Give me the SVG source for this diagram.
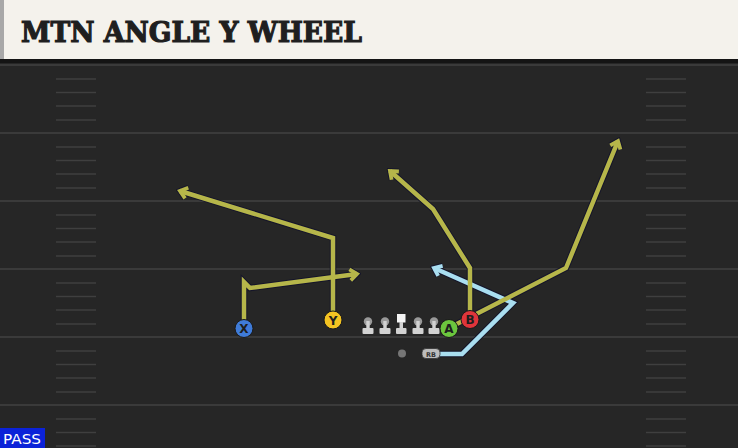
<svg xmlns="http://www.w3.org/2000/svg" width="738" height="448" viewBox="0 0 738 448">
<style>
.yard{stroke:#3a3a3a;stroke-width:2}
.hash{stroke:#3f3f3f;stroke-width:1.6}
.rt-o{fill:none;stroke:#b6b64a;stroke-width:4.5;stroke-linejoin:miter}
.rt-b{fill:none;stroke:#a9def0;stroke-width:4.5;stroke-linejoin:miter}
.rt-k{fill:none;stroke:#15152a;stroke-width:6.5;stroke-linejoin:miter}
.pl{stroke:#1a1a1a;stroke-width:1}
.lt{font-family:"DejaVu Sans",sans-serif;font-weight:bold;font-size:12px;fill:#1e1e1e;text-anchor:middle}
.ol{fill:#d2d2d2}
.oh{fill:#9a9a9a}
</style>
<defs>
<marker id="mO" markerUnits="userSpaceOnUse" viewBox="-12 -9 16 18" markerWidth="16" markerHeight="18" refX="0" refY="0" orient="auto">
<path d="M-7,-5.5 L0,0 L-7,5.5" fill="none" stroke="#b6b64a" stroke-width="3.8"/>
</marker>
<marker id="mB" markerUnits="userSpaceOnUse" viewBox="-12 -9 16 18" markerWidth="16" markerHeight="18" refX="0" refY="0" orient="auto">
<path d="M-7,-5.5 L0,0 L-7,5.5" fill="none" stroke="#a9def0" stroke-width="3.8"/>
</marker>
<marker id="mK" markerUnits="userSpaceOnUse" viewBox="-12 -9 16 18" markerWidth="16" markerHeight="18" refX="0" refY="0" orient="auto">
<path d="M-7,-5.5 L0,0 L-7,5.5" fill="none" stroke="#15152a" stroke-width="5.8"/>
</marker>
</defs>

<g id="field">
<rect x="0" y="0" width="738" height="448" fill="#262626"/>
<line class="yard" x1="0" y1="65" x2="738" y2="65"/>
<line class="yard" x1="0" y1="133" x2="738" y2="133"/>
<line class="yard" x1="0" y1="201" x2="738" y2="201"/>
<line class="yard" x1="0" y1="269" x2="738" y2="269"/>
<line class="yard" x1="0" y1="337" x2="738" y2="337"/>
<line class="yard" x1="0" y1="405" x2="738" y2="405"/>
<g id="hash-left">
<line class="hash" x1="56" y1="79" x2="96" y2="79"/><line class="hash" x1="56" y1="92.5" x2="96" y2="92.5"/><line class="hash" x1="56" y1="106" x2="96" y2="106"/><line class="hash" x1="56" y1="120" x2="96" y2="120"/>
<line class="hash" x1="56" y1="147" x2="96" y2="147"/><line class="hash" x1="56" y1="160.5" x2="96" y2="160.5"/><line class="hash" x1="56" y1="174" x2="96" y2="174"/><line class="hash" x1="56" y1="188" x2="96" y2="188"/>
<line class="hash" x1="56" y1="215" x2="96" y2="215"/><line class="hash" x1="56" y1="228.5" x2="96" y2="228.5"/><line class="hash" x1="56" y1="242" x2="96" y2="242"/><line class="hash" x1="56" y1="256" x2="96" y2="256"/>
<line class="hash" x1="56" y1="283" x2="96" y2="283"/><line class="hash" x1="56" y1="296.5" x2="96" y2="296.5"/><line class="hash" x1="56" y1="310" x2="96" y2="310"/><line class="hash" x1="56" y1="324" x2="96" y2="324"/>
<line class="hash" x1="56" y1="351" x2="96" y2="351"/><line class="hash" x1="56" y1="364.5" x2="96" y2="364.5"/><line class="hash" x1="56" y1="378" x2="96" y2="378"/><line class="hash" x1="56" y1="392" x2="96" y2="392"/>
<line class="hash" x1="56" y1="419" x2="96" y2="419"/><line class="hash" x1="56" y1="432.5" x2="96" y2="432.5"/><line class="hash" x1="56" y1="446" x2="96" y2="446"/>
</g>
<g id="hash-right">
<line class="hash" x1="646" y1="79" x2="686" y2="79"/><line class="hash" x1="646" y1="92.5" x2="686" y2="92.5"/><line class="hash" x1="646" y1="106" x2="686" y2="106"/><line class="hash" x1="646" y1="120" x2="686" y2="120"/>
<line class="hash" x1="646" y1="147" x2="686" y2="147"/><line class="hash" x1="646" y1="160.5" x2="686" y2="160.5"/><line class="hash" x1="646" y1="174" x2="686" y2="174"/><line class="hash" x1="646" y1="188" x2="686" y2="188"/>
<line class="hash" x1="646" y1="215" x2="686" y2="215"/><line class="hash" x1="646" y1="228.5" x2="686" y2="228.5"/><line class="hash" x1="646" y1="242" x2="686" y2="242"/><line class="hash" x1="646" y1="256" x2="686" y2="256"/>
<line class="hash" x1="646" y1="283" x2="686" y2="283"/><line class="hash" x1="646" y1="296.5" x2="686" y2="296.5"/><line class="hash" x1="646" y1="310" x2="686" y2="310"/><line class="hash" x1="646" y1="324" x2="686" y2="324"/>
<line class="hash" x1="646" y1="351" x2="686" y2="351"/><line class="hash" x1="646" y1="364.5" x2="686" y2="364.5"/><line class="hash" x1="646" y1="378" x2="686" y2="378"/><line class="hash" x1="646" y1="392" x2="686" y2="392"/>
<line class="hash" x1="646" y1="419" x2="686" y2="419"/><line class="hash" x1="646" y1="432.5" x2="686" y2="432.5"/><line class="hash" x1="646" y1="446" x2="686" y2="446"/>
</g>
</g>

<g id="title">
<rect x="0" y="0" width="738" height="59" fill="#f4f2ec"/>
<rect x="0" y="0" width="4" height="59" fill="#a8a8a8"/>
<rect x="0" y="59" width="738" height="4" fill="#141414"/>
<text x="21" y="42" font-family="'DejaVu Serif',serif" font-weight="bold" font-size="28" fill="#1f1f1f" stroke="#1f1f1f" stroke-width="1.2" textLength="341" lengthAdjust="spacingAndGlyphs">MTN ANGLE Y WHEEL</text>
</g>

<g id="connectors">
<polyline class="rt-k" points="244,328 244,282 250,288 357,274" marker-end="url(#mK)"/>
<polyline class="rt-k" points="333,320 333,238 180,191" marker-end="url(#mK)"/>
<polyline class="rt-k" points="470,319 470,268 433,209 390,171" marker-end="url(#mK)"/>
<polyline class="rt-k" points="449,328 566,268 618,141" marker-end="url(#mK)"/>
<polyline class="rt-k" points="440,354 462,354 513,303 434,268" marker-end="url(#mK)"/>
<polyline class="rt-b" points="440,354 462,354 513,303 434,268" marker-end="url(#mB)"/>
<polyline class="rt-o" points="244,328 244,282 250,288 357,274" marker-end="url(#mO)"/>
<polyline class="rt-o" points="333,320 333,238 180,191" marker-end="url(#mO)"/>
<polyline class="rt-o" points="470,319 470,268 433,209 390,171" marker-end="url(#mO)"/>
<polyline class="rt-o" points="449,328 566,268 618,141" marker-end="url(#mO)"/>
</g>

<g id="line-1"><circle class="oh" cx="368" cy="321.5" r="4.2"/><rect class="ol" x="366.3" y="321" width="3.4" height="8"/><rect class="ol" x="362.5" y="328" width="11" height="6" rx="1"/></g>
<g id="line-2"><circle class="oh" cx="385" cy="321.5" r="4.2"/><rect class="ol" x="383.3" y="321" width="3.4" height="8"/><rect class="ol" x="379.5" y="328" width="11" height="6" rx="1"/></g>
<g id="center"><rect x="397" y="314" width="8.5" height="8.5" fill="#f4f4f4"/><rect class="ol" x="399.5" y="322" width="3.5" height="7"/><rect class="ol" x="396" y="328" width="10.5" height="6" rx="1"/></g>
<g id="line-4"><circle class="oh" cx="418" cy="321.5" r="4.2"/><rect class="ol" x="416.3" y="321" width="3.4" height="8"/><rect class="ol" x="412.5" y="328" width="11" height="6" rx="1"/></g>
<g id="line-5"><circle class="oh" cx="434" cy="321.5" r="4.2"/><rect class="ol" x="432.3" y="321" width="3.4" height="8"/><rect class="ol" x="428.5" y="328" width="11" height="6" rx="1"/></g>

<g id="qb"><circle cx="402" cy="353.5" r="4" fill="#767676"/></g>
<g id="rb"><rect x="422" y="348.5" width="18" height="10" rx="4" fill="#bdbdbd" stroke="#333" stroke-width="0.8"/><text x="431" y="356.5" font-family="'DejaVu Sans',sans-serif" font-weight="bold" font-size="6.5" fill="#333" text-anchor="middle">RB</text></g>

<g id="x"><circle class="pl" cx="244" cy="328.5" r="9" fill="#3f7bd8"/><text class="lt" x="244" y="333">X</text></g>
<g id="y"><circle class="pl" cx="333" cy="320" r="9" fill="#f3c322"/><text class="lt" x="333" y="324.5">Y</text></g>
<g id="a"><circle class="pl" cx="449" cy="328.5" r="9" fill="#6cc63e"/><text class="lt" x="449" y="333">A</text></g>
<g id="b"><circle class="pl" cx="470" cy="319.5" r="9" fill="#e0353b"/><text class="lt" x="470" y="324">B</text></g>

<g id="pass"><rect x="0" y="428" width="45" height="20" fill="#0b22d8"/><text x="3" y="444" font-family="'DejaVu Sans',sans-serif" font-size="14" fill="#ffffff" textLength="38" lengthAdjust="spacingAndGlyphs">PASS</text></g>
</svg>
